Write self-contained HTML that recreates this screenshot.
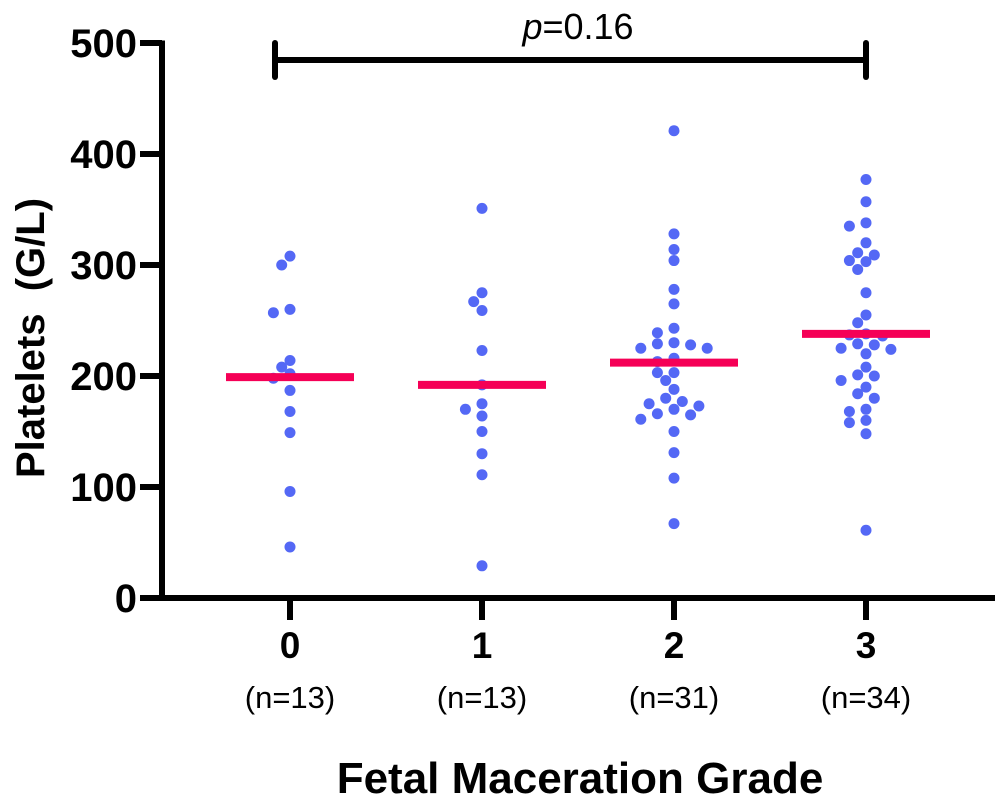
<!DOCTYPE html>
<html><head><meta charset="utf-8"><style>
body{margin:0;background:#fff}
svg{display:block}
text{font-family:"Liberation Sans",Arial,sans-serif;fill:#000}
</style></head><body>
<svg id="chart" width="1000" height="804" viewBox="0 0 1000 804">
<g id="axes"></g>
<g id="marks"></g>
<g id="means"></g>
<text x="44" y="338" font-size="40" font-weight="bold" text-anchor="middle" transform="rotate(-90 44 338)" xml:space="preserve">Platelets  (G/L)</text>
<text x="580" y="793" font-size="44" font-weight="bold" text-anchor="middle">Fetal Maceration Grade</text>
<g>
<line x1="275" y1="60" x2="866" y2="60" stroke="#000" stroke-width="6"/>
<line x1="275" y1="43" x2="275" y2="77" stroke="#000" stroke-width="6" stroke-linecap="round"/>
<line x1="866" y1="43" x2="866" y2="77" stroke="#000" stroke-width="6" stroke-linecap="round"/>
<text x="578" y="39" font-size="36" text-anchor="middle"><tspan font-style="italic">p</tspan>=0.16</text>
</g>
</svg>
<script>
const categories = ["0","1","2","3"];
const counts = ["(n=13)","(n=13)","(n=31)","(n=34)"];
const yTicks = [0,100,200,300,400,500];
const means = [199,192,212,238];
const g0 = [308,300,257,260,214,208,202,198,187,168,149,96,46];
const g1 = [351,267,275,259,223,192,175,170,164,150,130,111,29];
const g2 = [421,328,314,304,278,265,243,239,228,225,230,229,225,213,216,203,203,196,188,177,173,175,180,166,161,170,165,150,131,108,67];
const g3 = [377,357,338,335,320,309,303,304,311,296,275,255,248,238,236,237,228,224,225,229,220,208,200,196,201,190,180,184,170,168,158,160,148,61];
const groups = [g0,g1,g2,g3];

const NS = "http://www.w3.org/2000/svg";
const x0 = 290, xStep = 192;
function xScale(i){ return x0 + i*xStep; }
function yScale(v){ return 598 - v*1.11; }
function mk(tag, attrs, parent){
  const e = document.createElementNS(NS, tag);
  for (const k in attrs) e.setAttribute(k, attrs[k]);
  parent.appendChild(e);
  return e;
}
const axes = document.getElementById('axes');
const marks = document.getElementById('marks');
const meanG = document.getElementById('means');

let ya = mk('line',{x1:162,y1:yScale(500)-2.5,x2:162,y2:600,stroke:'#000','stroke-width':6},axes);


let xa = mk('line',{x1:140,y1:598,x2:995,y2:598,stroke:'#000','stroke-width':6},axes);



yTicks.forEach(v=>{
  const y = yScale(v);
  const t = mk('line',{x1:140,y1:y,x2:162,y2:y,stroke:'#000','stroke-width':6},axes);
  
  
  const l = mk('text',{x:137,y:y+14,'font-size':40,'font-weight':'bold','text-anchor':'end'},axes);
  l.textContent = v;
  
  
});

categories.forEach((c,i)=>{
  const x = xScale(i);
  const t = mk('line',{x1:x,y1:598,x2:x,y2:620,stroke:'#000','stroke-width':6},axes);
  
  
  const l = mk('text',{x:x,y:658,'font-size':37,'font-weight':'bold','text-anchor':'middle'},axes);
  l.textContent = c;
  
  
  const n = mk('text',{x:x,y:708,'font-size':31,'text-anchor':'middle'},axes);
  n.textContent = counts[i];
  
  
});

// beeswarm placement
const R = 5.5, STEP = 8.3;
groups.forEach((vals,i)=>{
  const cx = xScale(i);
  const placed = [];
  const order = vals.map((v,k)=>k).sort((a,b)=>vals[b]-vals[a]);
  order.forEach(k=>{
    const y = yScale(vals[k]);
    let chosen = 0;
    for (let s=0; s<12; s++){
      const off = s===0?0:(s%2? -Math.ceil(s/2):Math.ceil(s/2))*STEP;
      const ok = placed.every(p=>Math.hypot(p.x-(cx+off),p.y-y) >= 2*R-1);
      if (ok){ chosen = off; break; }
    }
    placed.push({x:cx+chosen,y:y});
    const c = mk('circle',{cx:cx+chosen,cy:y,r:R,fill:'#5468f5'},marks);
    
    
  });
  const m = mk('line',{x1:cx-64,y1:yScale(means[i]),x2:cx+64,y2:yScale(means[i]),stroke:'#f50056','stroke-width':8},meanG);
  
  
});
</script>
</body></html>
